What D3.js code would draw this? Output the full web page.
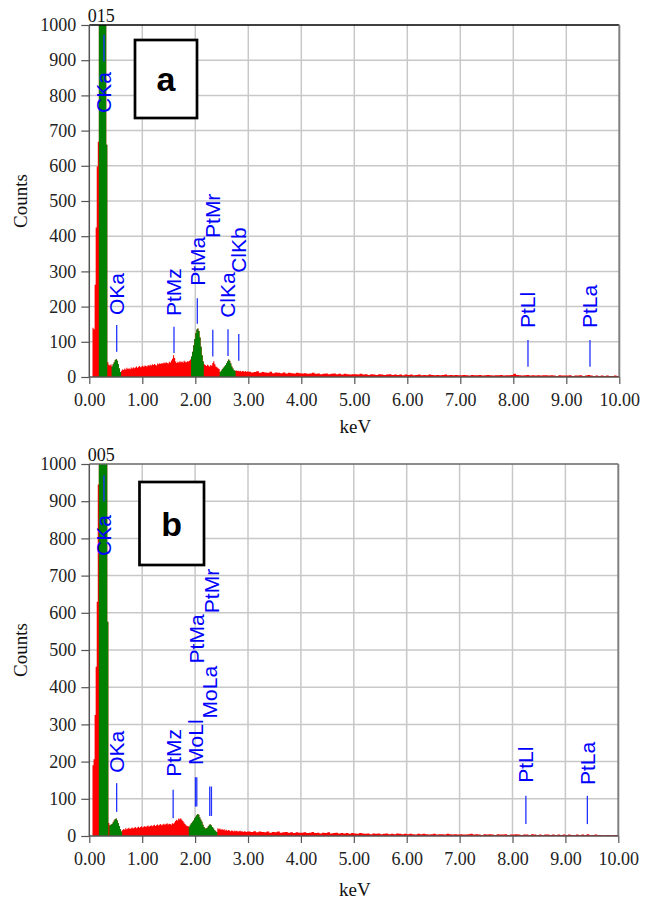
<!DOCTYPE html>
<html>
<head>
<meta charset="utf-8">
<script src="https://cdn.jsdelivr.net/npm/d3@7"></script>
<style>
  body { margin: 0; background: #fff; }
  svg { display: block; }
  .tick text { font-family: "Liberation Serif", "Times New Roman", serif; font-size: 18px; fill: #222; }
</style>
</head>
<body>
<script>
// tick values
var xTicks = [0, 1, 2, 3, 4, 5, 6, 7, 8, 9, 10];
var yTicks = [0, 100, 200, 300, 400, 500, 600, 700, 800, 900, 1000];

// spectrum a : 0.02 keV channels from 0 to 3 keV, then 0.05 keV channels from 3 to 10 keV
var countsLowA = [
  0, 0, 0, 140, 136, 262, 425, 598, 668, 1450,
  2700, 3300, 3000, 2300, 1600, 1100, 660, 42, 35, 33,
  36, 30, 36, 42, 48, 51, 46, 36, 24, 14,
  18, 22, 20, 24, 21, 26, 23, 25, 22, 27,
  24, 28, 25, 27, 30, 26, 29, 31, 28, 30,
  32, 29, 33, 31, 30, 34, 32, 35, 33, 36,
  34, 37, 35, 33, 38, 36, 39, 37, 40, 38,
  41, 39, 42, 40, 38, 43, 41, 47, 52, 62,
  54, 44, 40, 43, 41, 45, 42, 44, 41, 46,
  43, 42, 45, 44, 46, 50, 58, 72, 90, 108,
  124, 135, 138, 131, 112, 86, 62, 44, 36, 34,
  31, 35, 33, 30, 34, 32, 40, 45, 36, 30,
  28, 25, 23, 14, 18, 22, 26, 30, 34, 39,
  45, 50, 46, 38, 30, 24, 20, 17, 19, 17,
  18, 16, 18, 15, 17, 16, 15, 17, 14, 16
];
var countsHighA = [
  15, 13, 14, 16, 12, 14, 13, 12, 15, 11, 13, 12, 11, 13, 10, 12, 11, 10, 12, 11,
  10, 11, 9, 10, 12, 9, 10, 8, 9, 10, 8, 9, 10, 8, 9, 7, 9, 8, 7, 8,
  8, 7, 9, 7, 8, 6, 8, 7, 6, 8, 7, 6, 7, 8, 6, 7, 6, 7, 5, 7,
  6, 7, 5, 6, 7, 5, 6, 5, 7, 6, 5, 6, 5, 6, 7, 5, 6, 5, 6, 5,
  5, 6, 5, 4, 6, 5, 5, 6, 4, 5, 6, 5, 4, 5, 5, 6, 4, 5, 5, 6,
  9, 6, 5, 4, 5, 6, 4, 5, 4, 5, 4, 5, 5, 4, 5, 4, 3, 5, 4, 4,
  4, 5, 3, 4, 4, 5, 3, 4, 6, 4, 3, 4, 3, 4, 3, 4, 3, 3, 4, 3
];
var roisA = [[0.18, 0.34], [0.42, 0.60], [1.92, 2.16], [2.46, 2.76]];

var markerNamesA = ["CKa", "OKa", "PtMz", "PtMa", "PtMr", "ClKa", "ClKb", "PtLl", "PtLa"];
var markerKeVA = [0.277, 0.517, 1.598, 2.038, 2.33, 2.617, 2.82, 8.277, 9.447];
var markerTopA = [972, 148, 143, 224, 134, 136, 122, 105, 105];
var markerBottomA = [896, 72, 68, 151, 58, 60, 46, 29, 29];
var markerLabelA = [750, 176, 173, 259, 395, 168, 296, 139, 139];

// spectrum b
var countsLowB = [
  0, 0, 0, 190, 206, 325, 455, 630, 945, 1500,
  2800, 3400, 3000, 2400, 1800, 1300, 1050, 576, 35, 28,
  30, 32, 36, 42, 46, 47, 42, 34, 26, 18,
  12, 16, 19, 17, 21, 18, 20, 22, 19, 21,
  23, 20, 22, 24, 21, 23, 25, 22, 24, 26,
  23, 25, 27, 24, 26, 28, 25, 27, 29, 26,
  28, 30, 27, 29, 31, 28, 30, 32, 29, 31,
  33, 30, 32, 34, 31, 33, 32, 30, 34, 33,
  36, 40, 44, 42, 47, 45, 48, 44, 40, 36,
  32, 29, 27, 26, 25, 30, 34, 38, 42, 48,
  52, 56, 59, 57, 50, 44, 38, 30, 24, 20,
  20, 22, 26, 30, 31, 28, 24, 20, 16, 13,
  11, 21, 18, 20, 17, 19, 16, 18, 15, 17,
  14, 16, 15, 13, 15, 14, 12, 15, 13, 14,
  12, 13, 14, 12, 13, 11, 13, 12, 11, 12
];
var countsHighB = [
  12, 11, 13, 10, 12, 11, 10, 12, 9, 11, 10, 12, 9, 10, 11, 9, 10, 8, 10, 9,
  9, 10, 8, 9, 11, 8, 9, 7, 9, 8, 10, 7, 8, 9, 7, 8, 7, 8, 6, 8,
  7, 6, 8, 7, 6, 7, 5, 7, 6, 7, 5, 6, 7, 5, 6, 5, 7, 6, 5, 6,
  5, 6, 5, 4, 6, 5, 6, 5, 4, 5, 6, 4, 5, 5, 4, 6, 5, 4, 5, 4,
  5, 4, 4, 5, 6, 4, 5, 4, 3, 5, 4, 5, 4, 3, 5, 4, 4, 5, 3, 4,
  4, 5, 4, 3, 4, 4, 3, 5, 4, 3, 4, 3, 4, 4, 3, 4, 3, 4, 3, 4,
  3, 4, 3, 3, 4, 3, 4, 3, 5, 3, 3, 4, 3, 3, 2, 3, 3, 2, 3, 3
];
var roisB = [[0.18, 0.36], [0.38, 0.62], [1.88, 2.42]];

var markerNamesB = ["CKa", "OKa", "PtMz", "MoLl", "PtMa", "MoLa", "PtMr", "PtLl", "PtLa"];
var markerKeVB = [0.277, 0.517, 1.585, 2.007, 2.032, 2.277, 2.309, 8.253, 9.415];
var markerTopB = [970, 142, 124, 158, 158, 133, 133, 108, 108];
var markerBottomB = [899, 65, 48, 79, 79, 54, 54, 32, 32];
var markerLabelB = [753, 170, 159, 191, 464, 316, 599, 143, 137];

var W = 646, H = 899;
var svg = d3.select("body").append("svg").attr("width", W).attr("height", H);

function makeBins(low, high) {
  var bins = [];
  low.forEach(function(c, i) { bins.push({x0: i * 0.02, x1: (i + 1) * 0.02, y: c}); });
  high.forEach(function(c, i) { bins.push({x0: 3 + i * 0.05, x1: 3 + (i + 1) * 0.05, y: c}); });
  return bins;
}

function stepPoints(bins) {
  var pts = bins.map(function(b) { return {x: b.x0, y: b.y}; });
  var last = bins[bins.length - 1];
  pts.push({x: last.x1, y: last.y});
  return pts;
}

function panel(p) {
  var x = d3.scaleLinear().domain([0, 10]).range([p.left, p.right]);
  var y = d3.scaleLinear().domain([0, 1000]).range([p.bottom, p.top]);
  var g = svg.append("g");

  // grid
  g.append("g").selectAll("line").data(xTicks.slice(1, -1)).join("line")
    .attr("x1", function(d) { return x(d); }).attr("x2", function(d) { return x(d); })
    .attr("y1", p.top).attr("y2", p.bottom)
    .attr("stroke", "#c8c8c8").attr("stroke-width", 1.5);
  g.append("g").selectAll("line").data(yTicks.slice(1, -1)).join("line")
    .attr("y1", function(d) { return y(d); }).attr("y2", function(d) { return y(d); })
    .attr("x1", p.left).attr("x2", p.right)
    .attr("stroke", "#c8c8c8").attr("stroke-width", 1.5);

  var clipId = "clip" + p.id;
  svg.append("clipPath").attr("id", clipId).append("rect")
    .attr("x", p.left).attr("y", p.top).attr("width", p.right - p.left).attr("height", p.bottom - p.top);

  var bins = makeBins(p.low, p.high);
  var area = d3.area().curve(d3.curveStepAfter)
    .x(function(d) { return x(d.x); })
    .y0(y(0))
    .y1(function(d) { return y(d.y); });

  var spec = g.append("g").attr("clip-path", "url(#" + clipId + ")");
  spec.append("path").attr("d", area(stepPoints(bins))).attr("fill", "#ff0000");
  p.rois.forEach(function(r) {
    var sub = bins.filter(function(b) { return b.x0 >= r[0] - 1e-6 && b.x1 <= r[1] + 1e-6; });
    spec.append("path").attr("d", area(stepPoints(sub))).attr("fill", "#008000");
  });

  // frame
  g.append("line").attr("x1", p.left).attr("x2", p.right).attr("y1", p.top).attr("y2", p.top)
    .attr("stroke", p.topColor).attr("stroke-width", 1.5);
  g.append("line").attr("x1", p.right).attr("x2", p.right).attr("y1", p.top).attr("y2", p.bottom)
    .attr("stroke", "#808080").attr("stroke-width", 2);

  var yAxis = d3.axisLeft(y).tickValues(yTicks).tickSize(8).tickPadding(5).tickFormat(d3.format("d"));
  var xAxis = d3.axisBottom(x).tickValues(xTicks).tickSize(7).tickPadding(9).tickFormat(d3.format(".2f"));
  var ya = g.append("g").attr("transform", "translate(" + p.left + ",0)").call(yAxis);
  var xa = g.append("g").attr("transform", "translate(0," + p.bottom + ")").call(xAxis);
  [ya, xa].forEach(function(a) {
    a.attr("font-family", "Liberation Serif, serif").attr("font-size", 18);
    a.select(".domain").attr("stroke", "#555").attr("stroke-width", 1.5);
    a.selectAll(".tick line").attr("stroke", "#555").attr("stroke-width", 1.2);
  });
  ya.select(".domain").attr("d", "M0," + p.top + "V" + p.bottom);
  xa.select(".domain").attr("d", "M" + p.left + ",0H" + p.right);

  // element markers
  var mk = g.append("g");
  p.names.forEach(function(name, i) {
    var mx = x(p.kev[i]);
    mk.append("line").attr("x1", mx).attr("x2", mx)
      .attr("y1", y(p.mTop[i])).attr("y2", y(p.mBottom[i]))
      .attr("stroke", "#2233ff").attr("stroke-width", 1.3);
    mk.append("text")
      .attr("transform", "translate(" + mx + "," + y(p.mLabel[i]) + ") rotate(-90)")
      .attr("dy", "0.35em")
      .attr("font-family", "Liberation Sans, Arial, sans-serif")
      .attr("font-size", 21)
      .attr("fill", "#0000ff")
      .text(name);
  });

  // titles
  g.append("text").attr("x", p.left + 12).attr("y", p.top - 9)
    .attr("text-anchor", "middle").attr("dominant-baseline", "central")
    .attr("font-family", "Liberation Serif, serif").attr("font-size", 18).attr("fill", "#111")
    .text(p.head);
  g.append("text").attr("x", (p.left + p.right) / 2 + 1).attr("y", p.keVy)
    .attr("text-anchor", "middle").attr("dominant-baseline", "central")
    .attr("font-family", "Liberation Serif, serif").attr("font-size", 19).attr("fill", "#111")
    .text("keV");
  g.append("text")
    .attr("transform", "translate(20," + ((p.top + p.bottom) / 2) + ") rotate(-90)")
    .attr("text-anchor", "middle").attr("dominant-baseline", "central")
    .attr("font-family", "Liberation Serif, serif").attr("font-size", 19).attr("fill", "#111")
    .text("Counts");

  // panel letter box
  g.append("rect").attr("x", p.box[0]).attr("y", p.box[1]).attr("width", p.box[2]).attr("height", p.box[3])
    .attr("fill", "#fff").attr("stroke", "#000").attr("stroke-width", 2.7);
  g.append("text").attr("x", p.box[0] + p.box[2] / 2).attr("y", p.box[1] + p.box[3] / 2)
    .attr("text-anchor", "middle").attr("dominant-baseline", "central")
    .attr("font-family", "Liberation Sans, Arial, sans-serif").attr("font-weight", "bold")
    .attr("font-size", 34).attr("fill", "#000")
    .text(p.letter);
}

panel({
  id: "a", left: 89.3, right: 619.3, top: 25, bottom: 377,
  low: countsLowA, high: countsHighA, rois: roisA,
  names: markerNamesA, kev: markerKeVA, mTop: markerTopA, mBottom: markerBottomA, mLabel: markerLabelA,
  head: "015", letter: "a", box: [135, 40, 62, 78], keVy: 426, topColor: "#000"
});
panel({
  id: "b", left: 89.3, right: 618.3, top: 464, bottom: 836,
  low: countsLowB, high: countsHighB, rois: roisB,
  names: markerNamesB, kev: markerKeVB, mTop: markerTopB, mBottom: markerBottomB, mLabel: markerLabelB,
  head: "005", letter: "b", box: [139.5, 482, 64.5, 83], keVy: 889, topColor: "#666"
});
</script>
</body>
</html>
